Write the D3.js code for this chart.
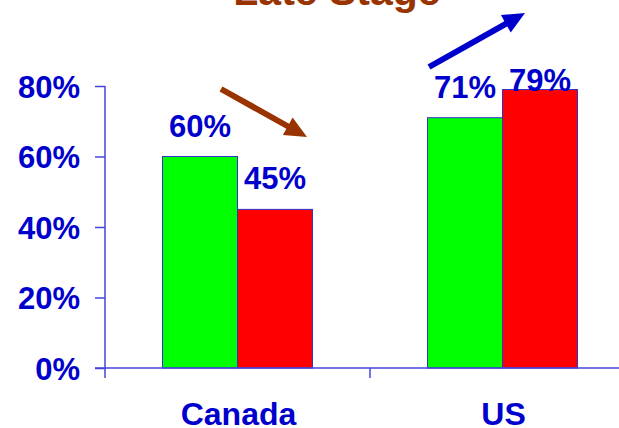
<!DOCTYPE html>
<html>
<head>
<meta charset="utf-8">
<script src="https://cdn.jsdelivr.net/npm/d3@7"></script>
<style>
  html, body { margin: 0; padding: 0; background: #fff; }
  svg { display: block; }
  text { font-family: "Liberation Sans", Arial, sans-serif; font-weight: bold; }
</style>
</head>
<body>
<svg id="chart" width="619" height="428"></svg>
<script>
// Late-stage share by country, two periods
const categories = ["Canada", "US"];
const seriesNames = ["Earlier", "Later"];
const earlierValues = [60, 71];
const laterValues = [45, 79];
const yTicks = [0, 20, 40, 60, 80];
const title = "Late Stage";

const seriesColors = ["#00ff00", "#ff0000"];
const textBlue = "#0000cc";
const axisBlue = "#4444dd";
const brown = "#993300";

const svg = d3.select("#chart");

const y = d3.scaleLinear().domain([0, 80]).range([368, 86]);
const x0 = d3.scaleBand().domain(categories).range([105, 635]);
const x1 = d3.scaleBand().domain(seriesNames).range([57.5, 207.5]);

const rows = categories.map((c, i) => ({
  category: c,
  values: [
    { series: seriesNames[0], value: earlierValues[i], color: seriesColors[0] },
    { series: seriesNames[1], value: laterValues[i], color: seriesColors[1] }
  ]
}));

// Title (runs off the top edge)
svg.append("text")
  .attr("x", 337).attr("y", 5)
  .attr("text-anchor", "middle")
  .attr("font-size", 41)
  .attr("fill", brown)
  .text(title);

// Bars
const groups = svg.selectAll("g.cat").data(rows).join("g")
  .attr("class", "cat")
  .attr("transform", d => `translate(${x0(d.category)},0)`);

groups.selectAll("rect").data(d => d.values).join("rect")
  .attr("x", d => x1(d.series))
  .attr("width", x1.bandwidth())
  .attr("y", d => y(d.value))
  .attr("height", d => y(0) - y(d.value))
  .attr("fill", d => d.color)
  .attr("stroke", "#3333cc")
  .attr("stroke-width", 1);

// Value labels
groups.selectAll("text.val").data(d => d.values).join("text")
  .attr("class", "val")
  .attr("x", d => x1(d.series) + x1.bandwidth() / 2)
  .attr("y", d => Math.max(y(d.value) - 20, 91))
  .attr("text-anchor", "middle")
  .attr("font-size", 31)
  .attr("fill", textBlue)
  .text(d => d.value + "%");

// Y axis
const yAxis = svg.append("g")
  .attr("transform", "translate(105,0)")
  .call(d3.axisLeft(y).tickValues(yTicks).tickSize(10).tickPadding(15)
    .tickFormat(d => d + "%"));
yAxis.select(".domain").remove();
yAxis.selectAll(".tick line").attr("stroke", axisBlue).attr("stroke-width", 1.5);
yAxis.selectAll(".tick text")
  .attr("font-size", 31)
  .attr("font-family", "Liberation Sans, Arial, sans-serif")
  .attr("font-weight", "bold")
  .attr("fill", textBlue)
  .attr("dy", "0.36em");
yAxis.append("line")
  .attr("x1", 0).attr("x2", 0)
  .attr("y1", y(80)).attr("y2", y(0) + 10)
  .attr("stroke", axisBlue).attr("stroke-width", 1.5);

// X axis
const xAxis = svg.append("g")
  .attr("transform", `translate(0,${y(0)})`);
xAxis.append("line")
  .attr("x1", 95).attr("x2", 619)
  .attr("y1", 0).attr("y2", 0)
  .attr("stroke", axisBlue).attr("stroke-width", 1.5);
xAxis.selectAll("line.sep").data(categories.slice(1)).join("line")
  .attr("class", "sep")
  .attr("x1", d => x0(d)).attr("x2", d => x0(d))
  .attr("y1", 0).attr("y2", 10)
  .attr("stroke", axisBlue).attr("stroke-width", 1.5);
xAxis.selectAll("text").data(categories).join("text")
  .attr("x", d => x0(d) + x0.bandwidth() / 2 + 1)
  .attr("y", 57)
  .attr("text-anchor", "middle")
  .attr("font-size", 32)
  .attr("fill", textBlue)
  .text(d => d);

// Trend arrows
function arrow(x1p, y1p, x2p, y2p, color) {
  const ang = Math.atan2(y2p - y1p, x2p - x1p);
  const headLen = 22, headHalf = 10;
  const bx = x2p - headLen * Math.cos(ang), by = y2p - headLen * Math.sin(ang);
  svg.append("line")
    .attr("x1", x1p).attr("y1", y1p)
    .attr("x2", bx + 2 * Math.cos(ang)).attr("y2", by + 2 * Math.sin(ang))
    .attr("stroke", color).attr("stroke-width", 6);
  const px = -Math.sin(ang) * headHalf, py = Math.cos(ang) * headHalf;
  svg.append("path")
    .attr("d", `M${x2p},${y2p}L${bx + px},${by + py}L${bx - px},${by - py}Z`)
    .attr("fill", color);
}
arrow(221, 89, 307, 137, brown);
arrow(429, 67, 525, 13, textBlue);
</script>
</body>
</html>
